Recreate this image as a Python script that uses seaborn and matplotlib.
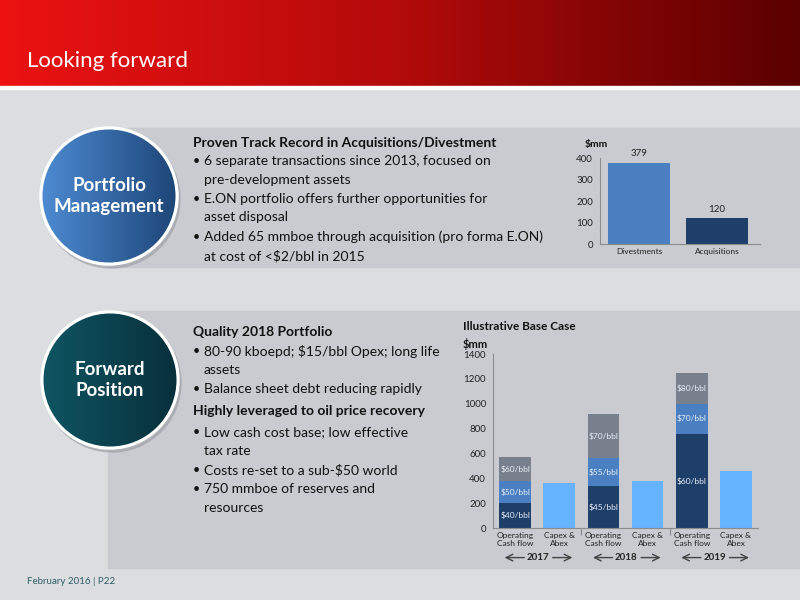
import numpy as np
import seaborn as sns
from matplotlib import pyplot as plt
from matplotlib.colors import LinearSegmentedColormap
from matplotlib.patches import Circle, Rectangle

# portfolio deals since 2013, $mm
deal_types = ['Divestments', 'Acquisitions']
deal_values = [379, 120]

# illustrative base case, $mm (cumulative operating cash flow by oil price)
years = ['2017', '2018', '2019']
ocf_low = [200, 335, 760]
ocf_mid = [380, 560, 1000]
ocf_high = [570, 915, 1245]
capex_abex = [360, 380, 460]
low_labels = ['$40/bbl', '$45/bbl', '$60/bbl']
mid_labels = ['$50/bbl', '$55/bbl', '$70/bbl']
high_labels = ['$60/bbl', '$70/bbl', '$80/bbl']
cat_labels = ['Operating\nCash flow', 'Capex &\nAbex']

NAVY = '#1F3F6B'
MID = '#4A80C2'
GREY = '#78808D'
CAPEX = '#66B3FF'
AXIS = '#8C8C8C'

sns.set_theme(style='white')
plt.rcParams['font.family'] = ['Lato', 'DejaVu Sans']
plt.rcParams['text.parse_math'] = False

fig = plt.figure(figsize=(8, 6), dpi=100)
fig.patch.set_facecolor('#DCDDE1')

# slide background drawn in pixel coordinates
bg = fig.add_axes([0, 0, 1, 1])
bg.axis('off')

red = LinearSegmentedColormap.from_list('red', ['#EC1212', '#B30B0B', '#5A0000'])
bg.imshow(np.linspace(0, 1, 256)[None, :], cmap=red, extent=[0, 800, 86, 0], aspect='auto')
bg.add_patch(Rectangle((0, 86), 800, 3, color='white'))
bg.text(27, 61, 'Looking forward', color='white', fontsize=16, va='center')

bg.add_patch(Rectangle((108, 128), 692, 139, color='#C9CBD0'))
bg.add_patch(Rectangle((108, 311), 692, 257, color='#C9CBD0'))


def badge(cx, cy, c1, c2, label):
    bg.add_patch(Circle((cx + 2, cy + 3), 69, color='#9EA1A7', alpha=0.6, zorder=2))
    bg.add_patch(Circle((cx, cy), 69, color='white', zorder=3))
    cmap = LinearSegmentedColormap.from_list('b', [c1, c2])
    im = bg.imshow(np.linspace(0, 1, 256)[None, :], cmap=cmap,
                   extent=[cx - 67, cx + 67, cy + 67, cy - 67], aspect='auto', zorder=4)
    im.set_clip_path(Circle((cx, cy), 66.5, transform=bg.transData))
    bg.text(cx, cy, label, color='white', fontsize=13.5, fontweight='bold',
            ha='center', va='center', linespacing=1.3, zorder=5)


badge(109, 196, '#4D8BD2', '#1E4678', 'Portfolio\nManagement')
badge(110, 380, '#0F5563', '#08303B', 'Forward\nPosition')


def block(lines, x=193):
    for y, kind, s in lines:
        if kind == 'h':
            bg.text(x, y, s, fontsize=10, fontweight='bold', color='#111111', va='center')
        elif kind == 'b':
            bg.text(x, y, '\u2022', fontsize=9, color='#111111', va='center')
            bg.text(x + 11, y, s, fontsize=10, color='#111111', va='center')
        else:
            bg.text(x + 11, y, s, fontsize=10, color='#111111', va='center')


block([
    (143, 'h', 'Proven Track Record in Acquisitions/Divestment'),
    (161, 'b', '6 separate transactions since 2013, focused on'),
    (180, 'c', 'pre-development assets'),
    (199, 'b', 'E.ON portfolio offers further opportunities for'),
    (217, 'c', 'asset disposal'),
    (237, 'b', 'Added 65 mmboe through acquisition (pro forma E.ON)'),
    (256, 'c', 'at cost of <$2/bbl in 2015'),
])
block([
    (332, 'h', 'Quality 2018 Portfolio'),
    (351, 'b', '80-90 kboepd; $15/bbl Opex; long life'),
    (370, 'c', 'assets'),
    (389, 'b', 'Balance sheet debt reducing rapidly'),
    (411, 'h', 'Highly leveraged to oil price recovery'),
    (432, 'b', 'Low cash cost base; low effective'),
    (451, 'c', 'tax rate'),
    (470, 'b', 'Costs re-set to a sub-$50 world'),
    (489, 'b', '750 mmboe of reserves and'),
    (508, 'c', 'resources'),
])

bg.text(585, 144, '$mm', fontsize=7.5, fontweight='bold', color='#111111', va='center')
bg.text(463, 327, 'Illustrative Base Case', fontsize=8.5, fontweight='bold', color='#111111', va='center')
bg.text(463, 344, '$mm', fontsize=8, fontweight='bold', color='#111111', va='center')
bg.text(27, 582, 'February 2016 | P22', fontsize=7, color='#2E5E68', va='center')

bg.set_xlim(0, 800)
bg.set_ylim(600, 0)


def style_axes(ax):
    ax.set_facecolor('none')
    sns.despine(ax=ax)
    for side in ('left', 'bottom'):
        ax.spines[side].set_color(AXIS)
        ax.spines[side].set_linewidth(0.8)
    ax.set_xlabel('')
    ax.set_ylabel('')
    ax.tick_params(axis='y', length=3, width=0.8, color=AXIS, labelsize=7, pad=2, labelcolor='#222222')
    ax.tick_params(axis='x', length=0, labelsize=6, pad=3, labelcolor='#222222')


# top chart
ax1 = fig.add_axes([600 / 800, 1 - 244 / 600, 160 / 800, 86 / 600])
sns.barplot(x=deal_types, y=deal_values, hue=deal_types, palette=[MID, NAVY],
            width=0.8, saturation=1, legend=False, linewidth=0, ax=ax1)
for c in ax1.containers:
    ax1.bar_label(c, padding=3, fontsize=7, color='#222222')
ax1.set_ylim(0, 400)
ax1.set_yticks(range(0, 401, 100))
ax1.set_xlim(-0.5, 1.55)
style_axes(ax1)

# bottom chart: stacked bars drawn as overlapping cumulative totals
ocf_keys = ['ocf' + y for y in years]
capex_keys = ['capex' + y for y in years]
order = [k for pair in zip(ocf_keys, capex_keys) for k in pair]

ax2 = fig.add_axes([493 / 800, 1 - 528 / 600, 265 / 800, 174 / 600])
for vals, col in [(ocf_high, GREY), (ocf_mid, MID), (ocf_low, NAVY)]:
    sns.barplot(x=ocf_keys, y=vals, order=order, color=col, width=0.72,
                saturation=1, linewidth=0, ax=ax2)
sns.barplot(x=capex_keys, y=capex_abex, order=order, color=CAPEX, width=0.72,
            saturation=1, linewidth=0, ax=ax2)

for i in range(len(years)):
    segs = [(0, ocf_low[i], low_labels[i]),
            (ocf_low[i], ocf_mid[i], mid_labels[i]),
            (ocf_mid[i], ocf_high[i], high_labels[i])]
    for lo, hi, lab in segs:
        ax2.text(2 * i, (lo + hi) / 2, lab, ha='center', va='center',
                 fontsize=6, color='#E8EEF6')
    c = 2 * i + 0.52
    yf = -0.17
    ax2.annotate('', xy=(c - 0.82, yf), xytext=(c - 0.25, yf),
                 xycoords=('data', 'axes fraction'), textcoords=('data', 'axes fraction'),
                 arrowprops=dict(arrowstyle='->', color='#444444', lw=1))
    ax2.annotate('', xy=(c + 0.84, yf), xytext=(c + 0.27, yf),
                 xycoords=('data', 'axes fraction'), textcoords=('data', 'axes fraction'),
                 arrowprops=dict(arrowstyle='->', color='#444444', lw=1))
    ax2.text(c, yf, years[i], transform=ax2.get_xaxis_transform(), ha='center',
             va='center', fontsize=7, fontweight='bold', color='#222222')

ax2.set_ylim(0, 1400)
ax2.set_yticks(range(0, 1401, 200))
ax2.set_xlim(-0.5, 5.5)
ax2.set_xticks(range(6))
ax2.set_xticklabels(cat_labels * 3, linespacing=1.1)
ax2.set_xticks([1.5, 3.5], minor=True)
style_axes(ax2)
ax2.tick_params(axis='x', which='minor', length=5, width=0.8, color=AXIS, bottom=True)

fig.savefig('out.png', dpi=100, facecolor=fig.get_facecolor())
